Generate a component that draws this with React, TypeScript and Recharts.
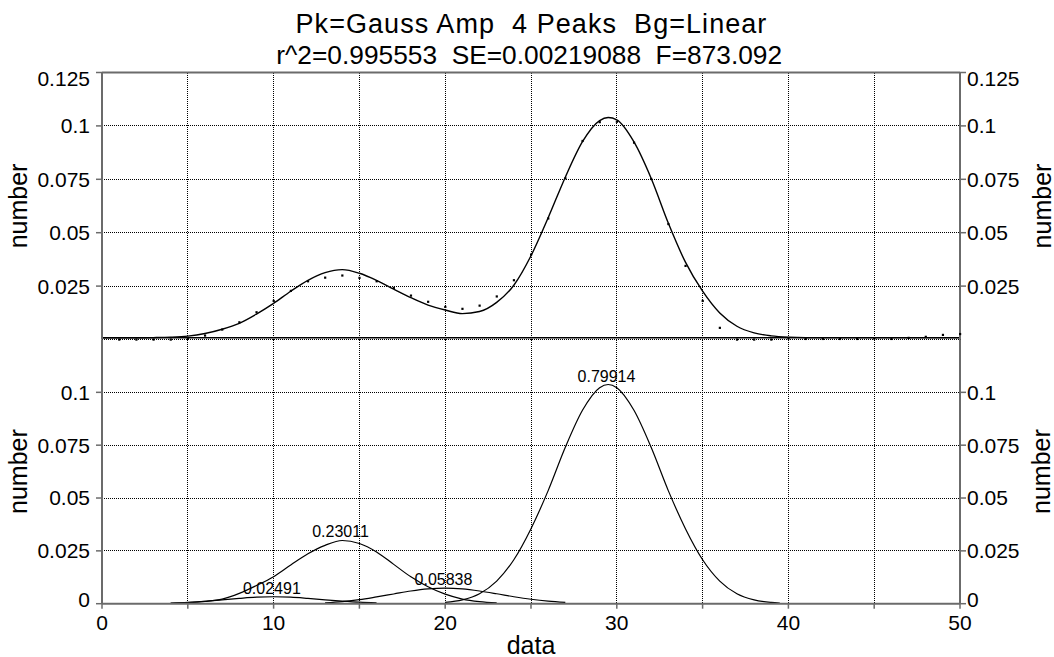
import React from 'react';
import { ComposedChart, Line, Scatter, XAxis, YAxis, CartesianGrid, ReferenceLine } from 'recharts';

const FONT = '"Liberation Sans", Arial, Helvetica, sans-serif';
const AXIS = '#6b6b6b';

// ---- text ----
const titleLine1 = 'Pk=Gauss Amp  4 Peaks  Bg=Linear';
const titleLine2 = 'r^2=0.995553  SE=0.00219088  F=873.092';
const xTitle = 'data';
const yTitle = 'number';

// ---- ticks ----
const xTicks = [0, 5, 10, 15, 20, 25, 30, 35, 40, 45, 50];
const xLabelledTicks = [0, 10, 20, 30, 40, 50];
const topYTicks = [0.025, 0.05, 0.075, 0.1, 0.125];
const bottomYTicks = [0, 0.025, 0.05, 0.075, 0.1];
const yDomain: [number, number] = [0, 0.125];

// ---- measured points (top panel) ----
const pointX = [1, 2, 3, 4, 5, 6, 7, 8, 9, 10, 11, 12, 13, 14, 15, 16, 17, 18, 19, 20, 21, 22, 23, 24, 25,
  26, 27, 28, 29, 30, 31, 32, 33, 34, 35, 36, 37, 38, 39, 40, 41, 42, 43, 44, 45, 46, 47, 48, 49, 50];
const pointY = [0, 0, 0, 0, 0.0005, 0.0019, 0.0047, 0.0081, 0.0128, 0.0181, 0.0228, 0.0273, 0.029, 0.03, 0.0289,
  0.0273, 0.0242, 0.0206, 0.0177, 0.0153, 0.0144, 0.0159, 0.0202, 0.0278, 0.0398, 0.0567, 0.0755, 0.093, 0.1018,
  0.102, 0.0922, 0.0752, 0.0541, 0.0345, 0.0181, 0.0055, 0, 0, 0, 0.0005, 0.0003, 0.0003, 0.0003, 0.0003, 0.0005,
  0.0003, 0.0008, 0.0013, 0.0022, 0.0026];

// ---- fitted curve (top panel) ----
const fitX = [0, 1, 2, 3, 4, 5, 6, 7, 8, 9, 10, 11, 12, 13, 14, 15, 16, 17, 18, 19, 20, 21, 22, 23, 24, 25,
  26, 27, 28, 29, 29.5, 30, 31, 32, 33, 34, 35, 36, 37, 38, 39, 40, 41, 42, 43, 44, 45, 46, 47, 48, 49, 50];
const fitY = [0.0008, 0.0008, 0.0008, 0.0009, 0.0011, 0.0016, 0.0028, 0.0048, 0.0076, 0.0119, 0.0169, 0.0226,
  0.0277, 0.0313, 0.0327, 0.031, 0.0277, 0.0236, 0.0196, 0.0161, 0.0138, 0.0121, 0.0131, 0.0174, 0.0254, 0.0392,
  0.057, 0.076, 0.0926, 0.1025, 0.1039, 0.1028, 0.0925, 0.0755, 0.0545, 0.0362, 0.0226, 0.0124, 0.0062, 0.0031,
  0.0017, 0.0011, 0.0009, 0.0009, 0.0009, 0.0009, 0.0009, 0.0009, 0.0009, 0.0009, 0.0009, 0.0009];

// ---- linear background (top panel) ----
const bgX = [0, 50];
const bgY = [0.0008, 0.0008];

// ---- individual peaks (bottom panel) ----
const peak1X = [4, 5, 6, 7, 8, 9, 10, 11, 12, 13, 14, 15, 16];
const peak1Y = [0.0003, 0.0006, 0.0011, 0.0018, 0.0025, 0.0031, 0.0033, 0.0031, 0.0025, 0.0018, 0.0012, 0.0007, 0.0004];
const peak2X = [4, 5, 6, 7, 8, 9, 10, 11, 12, 13, 14, 15, 16, 17, 18, 19, 20, 21, 22, 23];
const peak2Y = [0.0002, 0.0005, 0.0011, 0.0022, 0.0049, 0.0086, 0.0128, 0.0183, 0.0236, 0.0276, 0.0299, 0.0285,
  0.0245, 0.0186, 0.0127, 0.008, 0.0045, 0.0022, 0.001, 0.0004];
const peak3X = [13, 14, 15, 16, 17, 18, 19, 20, 21, 22, 23, 24, 25, 26, 27];
const peak3Y = [0.0004, 0.001, 0.0019, 0.0032, 0.0046, 0.006, 0.007, 0.0074, 0.007, 0.006, 0.0047, 0.0033, 0.0021,
  0.0012, 0.0006];
const peak4X = [20, 21, 22, 23, 24, 25, 26, 27, 28, 29, 29.5, 30, 31, 32, 33, 34, 35, 36, 37, 38, 39, 39.5];
const peak4Y = [0.0006, 0.0018, 0.0047, 0.0107, 0.0208, 0.0355, 0.0535, 0.074, 0.0915, 0.1022, 0.1037, 0.1022,
  0.0915, 0.074, 0.0535, 0.0355, 0.0208, 0.0107, 0.0047, 0.0018, 0.0006, 0.0003];

// ---- peak annotations ----
const peakCenterX = [9.9, 13.9, 19.9, 29.4];
const peakTopY = [0.0033, 0.0301, 0.0074, 0.1037];
const peakAreaLabels = ['0.02491', '0.23011', '0.05838', '0.79914'];

const zip = (xs: number[], ys: number[]) => xs.map((x, i) => ({ x, y: ys[i] }));
const pointData = zip(pointX, pointY);
const fitData = zip(fitX, fitY);
const bgData = zip(bgX, bgY);
const peakSeries = [zip(peak1X, peak1Y), zip(peak2X, peak2Y), zip(peak3X, peak3Y), zip(peak4X, peak4Y)];
const peakLabelData = peakCenterX.map((x, i) => ({ x, y: peakTopY[i], label: peakAreaLabels[i] }));

const W = 1054;
const H = 657;
const PLOT_TOP = 72.5;
const PLOT_MID = 339.5;
const PLOT_BOTTOM = 603.7;
const LEFT_W = 102;
const RIGHT_W = 94;
const XAXIS_H = 40;

const makeYTick = (shifts: Record<string, number>) => (props: any) => {
  const { x, y, payload, textAnchor } = props;
  const key = String(payload.value);
  const shift = shifts[key] ?? 0;
  return (
    <text x={x} y={y + shift} dy="0.355em" textAnchor={textAnchor} fontSize={21} fontFamily={FONT} fill="#000">
      {key}
    </text>
  );
};

const topTick = makeYTick({ '0.125': 6.5 });
const bottomTick = makeYTick({ '0': -3.7 });

const PointShape = (props: any) => (
  <rect x={props.cx - 1} y={props.cy - 1} width={2.2} height={2.2} fill="#000" />
);

const PeakLabelShape = (props: any) => (
  <text x={props.cx} y={props.cy - 3} textAnchor="middle" fontSize={16} fontFamily={FONT} fill="#000">
    {props.payload.label}
  </text>
);

const yAxisLabel = (side: 'left' | 'right') => (props: any) => {
  const vb = props.viewBox;
  const cx = side === 'left' ? vb.x + 26.7 : vb.x + 90.5;
  const cy = vb.y + vb.height / 2;
  return (
    <text x={cx} y={cy} transform={`rotate(-90 ${cx} ${cy})`} textAnchor="middle" fontSize={25}
      fontFamily={FONT} fill="#000">
      {yTitle}
    </text>
  );
};

const xAxisLabel = (props: any) => {
  const vb = props.viewBox;
  return (
    <text x={vb.x + vb.width / 2} y={653.5} textAnchor="middle" fontSize={25} fontFamily={FONT} fill="#000">
      {xTitle}
    </text>
  );
};

const gridProps = { stroke: '#000', strokeDasharray: '1 1', strokeWidth: 1, shapeRendering: 'crispEdges' };

export default function App() {
  return (
    <div style={{ position: 'absolute', left: 0, top: 0, width: W, height: H, background: '#fff', fontFamily: FONT }}>
      {/* Top panel: data points, fit and background */}
      <div style={{ position: 'absolute', left: 0, top: 0 }}>
        <ComposedChart width={W} height={H}
          margin={{ top: PLOT_TOP, right: 0, bottom: H - PLOT_MID, left: 0 }}>
          <CartesianGrid {...gridProps} />
          <XAxis dataKey="x" type="number" domain={[0, 50]} ticks={xTicks} hide allowDecimals />
          <YAxis type="number" domain={yDomain} ticks={topYTicks} width={LEFT_W}
            axisLine={{ stroke: AXIS, strokeWidth: 2 }} tickLine={{ stroke: AXIS, strokeWidth: 1.5 }}
            tickSize={6} tickMargin={6} tick={topTick} interval={0}
            label={{ content: yAxisLabel('left') }} />
          <YAxis yAxisId="r" orientation="right" type="number" domain={yDomain} ticks={topYTicks} width={RIGHT_W}
            axisLine={{ stroke: AXIS, strokeWidth: 2 }} tickLine={{ stroke: AXIS, strokeWidth: 1.5 }}
            tickSize={6} tickMargin={1} tick={topTick} interval={0}
            label={{ content: yAxisLabel('right') }} />
          <ReferenceLine y={0.125} stroke={AXIS} strokeWidth={2} />
          <Line yAxisId="r" data={bgData} dataKey="y" type="linear" dot={false} stroke="none"
            isAnimationActive={false} />
          <Line data={bgData} dataKey="y" type="linear" dot={false} stroke="#000" strokeWidth={1.5}
            isAnimationActive={false} />
          <Line data={fitData} dataKey="y" type="monotone" dot={false} stroke="#000" strokeWidth={1.4}
            isAnimationActive={false} />
          <Scatter data={pointData} dataKey="y" shape={PointShape} isAnimationActive={false} />
        </ComposedChart>
      </div>

      {/* Bottom panel: individual peaks */}
      <div style={{ position: 'absolute', left: 0, top: 0 }}>
        <ComposedChart width={W} height={H}
          margin={{ top: PLOT_MID, right: 0, bottom: H - PLOT_BOTTOM - XAXIS_H, left: 0 }}>
          <CartesianGrid {...gridProps} />
          <XAxis dataKey="x" type="number" domain={[0, 50]} ticks={xTicks} height={XAXIS_H} interval={0}
            axisLine={{ stroke: AXIS, strokeWidth: 2 }} tickLine={{ stroke: AXIS, strokeWidth: 1.5 }}
            tickSize={5} tickMargin={6}
            tick={{ fontSize: 21, fill: '#000', fontFamily: FONT }}
            tickFormatter={(v: number) => (xLabelledTicks.includes(v) ? String(v) : '')}
            label={{ content: xAxisLabel }} />
          <YAxis type="number" domain={yDomain} ticks={bottomYTicks} width={LEFT_W}
            axisLine={{ stroke: AXIS, strokeWidth: 2 }} tickLine={{ stroke: AXIS, strokeWidth: 1.5 }}
            tickSize={6} tickMargin={6} tick={bottomTick} interval={0}
            label={{ content: yAxisLabel('left') }} />
          <YAxis yAxisId="r" orientation="right" type="number" domain={yDomain} ticks={bottomYTicks} width={RIGHT_W}
            axisLine={{ stroke: AXIS, strokeWidth: 2 }} tickLine={{ stroke: AXIS, strokeWidth: 1.5 }}
            tickSize={6} tickMargin={1} tick={bottomTick} interval={0}
            label={{ content: yAxisLabel('right') }} />
          <Line yAxisId="r" data={peakSeries[3]} dataKey="y" type="monotone" dot={false} stroke="none"
            isAnimationActive={false} />
          {peakSeries.map((d, i) => (
            <Line key={i} data={d} dataKey="y" type="monotone" dot={false} stroke="#000" strokeWidth={1.2}
              isAnimationActive={false} />
          ))}
          <Scatter data={peakLabelData} dataKey="y" shape={PeakLabelShape} isAnimationActive={false} />
        </ComposedChart>
      </div>

      {/* Titles */}
      <svg width={W} height={H} style={{ position: 'absolute', left: 0, top: 0, pointerEvents: 'none' }}>
        <text x={531.5} y={33} textAnchor="middle" fontSize={27} letterSpacing={1.05} fontFamily={FONT}
          fill="#000" xmlSpace="preserve" style={{ whiteSpace: 'pre' }}>
          {titleLine1}
        </text>
        <text x={529.2} y={64} textAnchor="middle" fontSize={26.3} fontFamily={FONT} fill="#000"
          xmlSpace="preserve" style={{ whiteSpace: 'pre' }}>
          {titleLine2}
        </text>
      </svg>
    </div>
  );
}
